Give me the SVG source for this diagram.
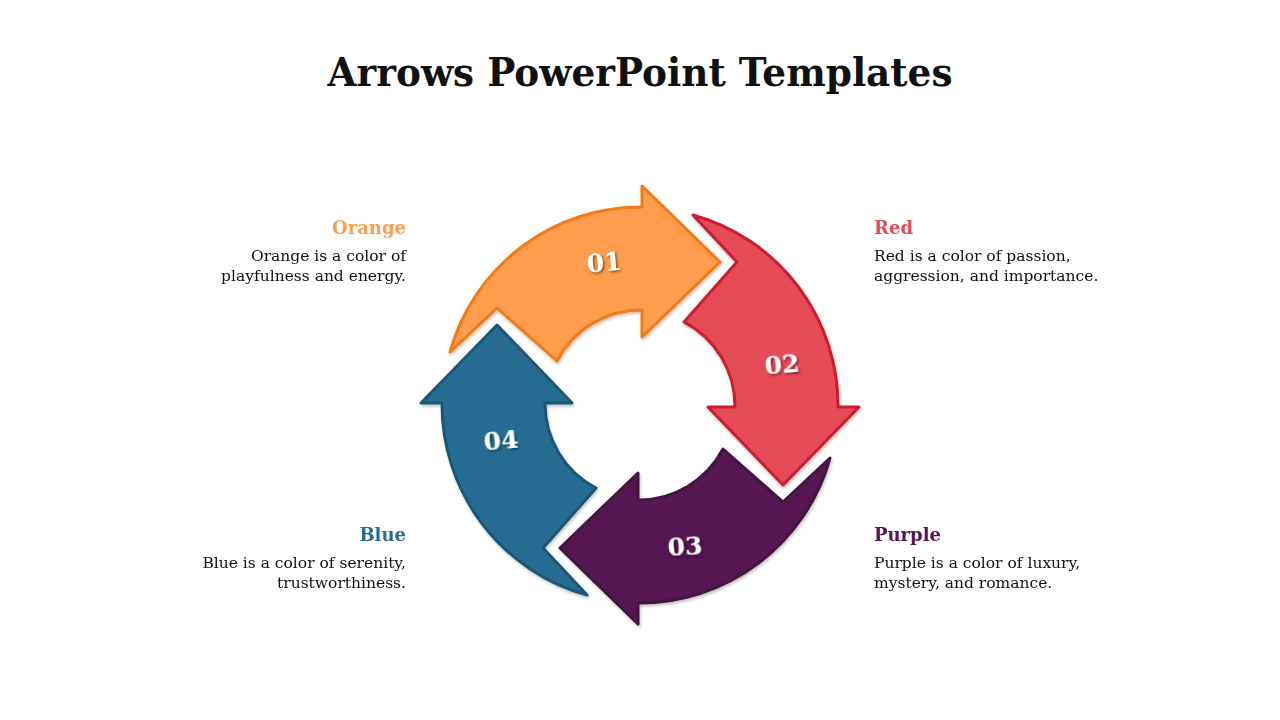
<svg xmlns="http://www.w3.org/2000/svg" width="1280" height="720" viewBox="0 0 1280 720">
<style>
.ar{stroke-width:3;stroke-linejoin:round}
.num{font-family:"DejaVu Serif","Liberation Serif",serif;font-weight:bold;font-size:25px;fill:#fff;text-anchor:middle}
.hd{font-family:"DejaVu Serif","Liberation Serif",serif;font-weight:bold;font-size:18px}
.bd{font-family:"DejaVu Serif","Liberation Serif",serif;font-size:15.5px;fill:#111}
</style>
<defs>
<path id="arrow" d="M450,352 A198,198 0 0 1 642,207 L642,186 L720,262 L642,337 L642,310 A95,95 0 0 0 557,361 L497,308 Z"/>
<filter id="sh" x="-20%" y="-20%" width="140%" height="140%"><feDropShadow dx="1.5" dy="1.5" stdDeviation="0.8" flood-color="#000" flood-opacity="0.5"/></filter>
<filter id="as" x="-10%" y="-10%" width="120%" height="120%"><feDropShadow dx="1" dy="2" stdDeviation="1.5" flood-color="#000" flood-opacity="0.25"/></filter>
</defs>
<rect width="1280" height="720" fill="#fff"/>
<text x="640" y="86" text-anchor="middle" font-family="'DejaVu Serif','Liberation Serif',serif" font-weight="bold" font-size="40" fill="#111" textLength="625" lengthAdjust="spacingAndGlyphs">Arrows PowerPoint Templates</text>
<g id="connectors"/>
<g id="n1" filter="url(#as)"><use href="#arrow" class="ar" fill="#FD9D4D" stroke="#F47A12"/></g>
<g id="n2" filter="url(#as)"><use href="#arrow" class="ar" fill="#E64B58" stroke="#CC1F2E" transform="rotate(90 640 405)"/></g>
<g id="n3" filter="url(#as)"><use href="#arrow" class="ar" fill="#561851" stroke="#43123F" transform="rotate(180 640 405)"/></g>
<g id="n4" filter="url(#as)"><use href="#arrow" class="ar" fill="#286C92" stroke="#1D5674" transform="rotate(270 640 405)"/></g>
<g filter="url(#sh)">
<text class="num" x="604" y="271" transform="rotate(-5 604 262)">01</text>
<text class="num" x="782" y="373" transform="rotate(-5 782 364)">02</text>
<text class="num" x="685" y="555" transform="rotate(-3 685 546)">03</text>
<text class="num" x="501" y="449" transform="rotate(-5 501 440)">04</text>
</g>
<g id="t1" text-anchor="end">
<text class="hd" x="406" y="234" fill="#FD9D4D">Orange</text>
<text class="bd" x="406" y="261">Orange is a color of</text>
<text class="bd" x="406" y="281">playfulness and energy.</text>
</g>
<g id="t2">
<text class="hd" x="874" y="234" fill="#E64B58">Red</text>
<text class="bd" x="874" y="261">Red is a color of passion,</text>
<text class="bd" x="874" y="281">aggression, and importance.</text>
</g>
<g id="t3">
<text class="hd" x="874" y="541" fill="#561851">Purple</text>
<text class="bd" x="874" y="568">Purple is a color of luxury,</text>
<text class="bd" x="874" y="588">mystery, and romance.</text>
</g>
<g id="t4" text-anchor="end">
<text class="hd" x="406" y="541" fill="#286C92">Blue</text>
<text class="bd" x="406" y="568">Blue is a color of serenity,</text>
<text class="bd" x="406" y="588">trustworthiness.</text>
</g>
</svg>
